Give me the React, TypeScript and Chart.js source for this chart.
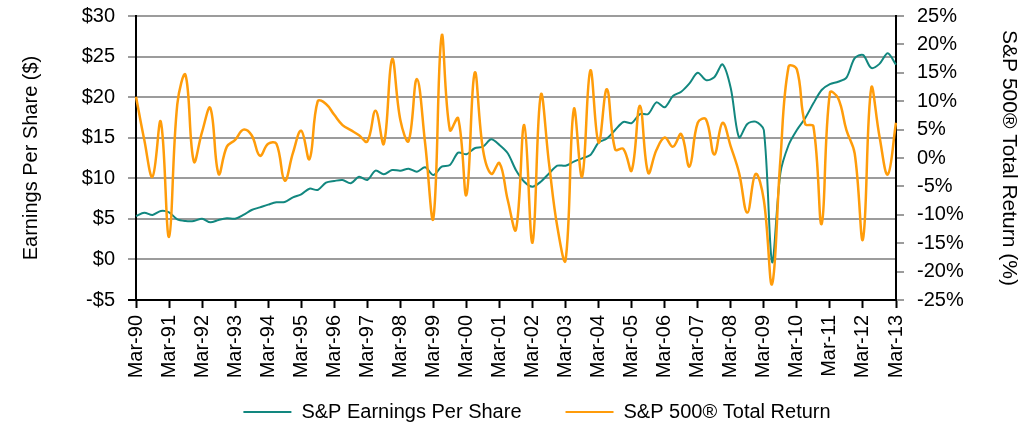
import React, { useEffect, useRef } from 'react';
import { Chart, registerables } from 'chart.js';

Chart.register(...registerables);

// ---- data ----
const yearLabels = ['90','91','92','93','94','95','96','97','98','99','00','01','02','03','04','05','06','07','08','09','10','11','12','13'];
const quarterNames = ['Mar','Jun','Sep','Dec'];

const epsValues = [
  5.35, 5.76, 5.48, 5.97, 5.8, 4.94, 4.74, 4.74, 5.02, 4.57,
  4.86, 5.06, 5.02, 5.48, 6.09, 6.42, 6.75, 7.04, 7.08, 7.65,
  8.02, 8.72, 8.56, 9.46, 9.67, 9.79, 9.38, 10.2, 9.79, 10.94,
  10.49, 11.02, 10.94, 11.18, 10.81, 11.35, 10.4, 11.43, 11.64, 13.16,
  12.96, 13.7, 13.9, 14.8, 14.1, 13.08, 11.0, 9.58, 8.97, 9.58,
  10.6, 11.55, 11.55, 12.05, 12.46, 12.87, 14.4, 14.9, 15.95, 16.94,
  16.8, 17.92, 17.92, 19.36, 18.75, 20.14, 20.67, 21.7, 23.0, 22.1,
  22.44, 24.04, 21.1, 15.05, 16.7, 16.98, 15.95, -0.35, 10.6, 14.1,
  15.95, 17.4, 19.24, 20.88, 21.6, 21.9, 22.4, 24.8, 25.2, 23.6,
  24.1, 25.4, 24.0,
];

const returnValues = [
  10.8, 3.2, -3.3, 6.4, -13.9, 9.5, 14.6, -0.6, 4.6, 8.8,
  -2.8, 2.0, 3.2, 5.0, 4.0, 0.4, 2.5, 2.5, -4.0, 0.9,
  4.8, -0.2, 10.0, 9.5, 7.6, 5.8, 4.9, 4.0, 2.9, 8.3,
  2.5, 17.4, 6.7, 3.0, 13.9, 2.6, -10.6, 21.5, 4.9, 7.0,
  -6.5, 15.0, 1.5, -2.8, -0.9, -7.4, -12.6, 5.8, -14.9, 11.1,
  -1.0, -12.1, -18.0, 8.6, -3.3, 15.4, 2.7, 12.1, 1.5, 1.6,
  -2.2, 9.2, -2.6, 1.4, 3.6, 2.0, 4.2, -1.5, 6.2, 6.8,
  0.6, 6.2, 2.0, -2.6, -9.6, -2.8, -7.4, -22.2, -0.4, 16.1,
  15.6, 6.0, 5.6, -11.6, 11.5, 10.5, 4.9, 0.8, -14.3, 12.3,
  3.8, -2.9, 6.2,
];

const categories: string[] = [];
yearLabels.forEach((yy, i) => {
  quarterNames.forEach((q, k) => {
    if (i === yearLabels.length - 1 && k > 0) return;
    categories.push(`${q}-${yy}`);
  });
});

const epsLabel = 'S&P Earnings Per Share';
const returnLabel = 'S&P 500® Total Return';
const leftTitle = 'Earnings Per Share ($)';
const rightTitle = 'S&P 500® Total Return (%)';

const TEAL = '#12877F';
const ORANGE = '#FF9C0A';
const GRID = '#9c9c9c';
const FONT = "'Liberation Sans', Arial, sans-serif";

const legendShift = {
  id: 'legendShift',
  afterLayout(chart: any) {
    const l = chart.legend;
    if (l) {
      l.left += 20;
      l.right += 20;
      l.top -= 22;
      l.bottom -= 22;
    }
  },
};

const noVerticalPadding = (s: any) => {
  s.paddingTop = 0;
  s.paddingBottom = 0;
};

export default function App() {
  const ref = useRef<HTMLCanvasElement | null>(null);

  useEffect(() => {
    if (!ref.current) return;
    Chart.defaults.color = '#000';
    Chart.defaults.font.family = FONT;
    const chart = new Chart(ref.current, {
      type: 'line',
      data: {
        labels: categories,
        datasets: [
          {
            label: epsLabel,
            data: epsValues,
            borderColor: TEAL,
            backgroundColor: TEAL,
            borderWidth: 2,
            pointRadius: 0,
            tension: 0.3,
            yAxisID: 'y',
            order: 1,
          },
          {
            label: returnLabel,
            data: returnValues,
            borderColor: ORANGE,
            backgroundColor: ORANGE,
            borderWidth: 2.5,
            pointRadius: 0,
            tension: 0.4,
            yAxisID: 'y1',
            order: 0,
          },
        ],
      },
      options: {
        animation: false,
        responsive: true,
        maintainAspectRatio: false,
        layout: { padding: { top: 16, left: 0, right: 0, bottom: -29 } },
        plugins: {
          tooltip: { enabled: false },
          legend: {
            position: 'bottom',
            labels: {
              font: { size: 20, family: FONT },
              color: '#000',
              boxWidth: 48,
              boxHeight: 2,
              padding: 44,
              generateLabels: () => [
                { text: epsLabel, fillStyle: TEAL, strokeStyle: TEAL, lineWidth: 0, hidden: false, datasetIndex: 0 },
                { text: returnLabel, fillStyle: ORANGE, strokeStyle: ORANGE, lineWidth: 0, hidden: false, datasetIndex: 1 },
              ],
            },
          },
        },
        scales: {
          x: {
            type: 'category',
            afterFit: (s: any) => { s.height = 80; },
            grid: {
              drawOnChartArea: false,
              drawTicks: true,
              tickLength: 8,
              tickWidth: 2,
              tickColor: (ctx: any) => (ctx.index % 4 === 0 ? '#000' : 'rgba(0,0,0,0)'),
            },
            border: { color: '#000', width: 2 },
            ticks: {
              autoSkip: false,
              maxRotation: 90,
              minRotation: 90,
              padding: 7,
              font: { size: 20, family: FONT },
              callback: (_v: any, i: number) => (categories[i].startsWith('Mar') ? categories[i] : ''),
            },
          },
          y: {
            position: 'left',
            min: -5,
            max: 30,
            afterFit: (s: any) => { s.width = 136; noVerticalPadding(s); },
            grid: {
              color: (ctx: any) => (ctx.tick && ctx.tick.value === -5 ? 'rgba(0,0,0,0)' : GRID),
              tickColor: (ctx: any) => (ctx.tick && ctx.tick.value === -5 ? '#000' : GRID),
              lineWidth: 2,
              tickLength: 8,
            },
            border: { color: '#000', width: 2 },
            ticks: {
              stepSize: 5,
              padding: 13,
              font: { size: 20, family: FONT },
              callback: (v: any) => (v < 0 ? '-$' + Math.abs(v) : '$' + v),
            },
            title: {
              display: true,
              text: leftTitle,
              font: { size: 20, family: FONT },
              padding: { top: 19, bottom: 0 },
            },
          },
          y1: {
            position: 'right',
            min: -25,
            max: 25,
            afterFit: (s: any) => { s.width = 138; noVerticalPadding(s); },
            grid: {
              drawOnChartArea: false,
              color: GRID,
              tickColor: GRID,
              lineWidth: 2,
              tickLength: 8,
            },
            border: { color: '#000', width: 2 },
            ticks: {
              stepSize: 5,
              padding: 13,
              font: { size: 20, family: FONT },
              callback: (v: any) => v + '%',
            },
            title: {
              display: true,
              text: rightTitle,
              font: { size: 21, family: FONT },
              padding: { top: 13, bottom: 0 },
            },
          },
        },
      },
      plugins: [legendShift],
    } as any);
    return () => chart.destroy();
  }, []);

  return (
    <div style={{ position: 'fixed', left: 0, top: 0, width: 1034, height: 425, background: '#fff' }}>
      <canvas ref={ref} />
    </div>
  );
}
